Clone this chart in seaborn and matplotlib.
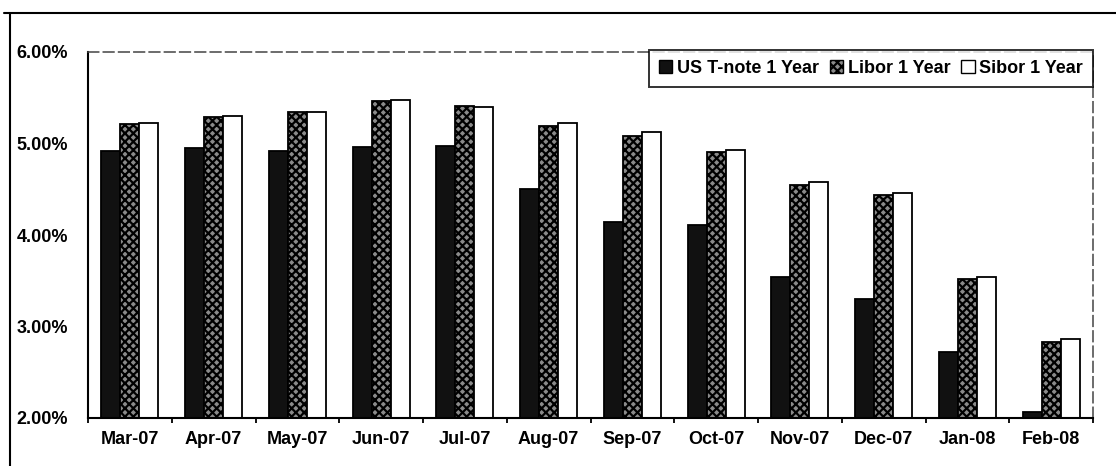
import matplotlib
matplotlib.use("Agg")
import matplotlib.pyplot as plt
from matplotlib.ticker import FuncFormatter, FixedLocator, MultipleLocator
from matplotlib.lines import Line2D
from matplotlib.patches import Patch
import pandas as pd
import seaborn as sns

# Monthly 1-year rates (%)
months = ["Mar-07", "Apr-07", "May-07", "Jun-07", "Jul-07", "Aug-07",
          "Sep-07", "Oct-07", "Nov-07", "Dec-07", "Jan-08", "Feb-08"]
series = ["US T-note 1 Year", "Libor 1 Year", "Sibor 1 Year"]
us_tnote = [4.92, 4.95, 4.92, 4.96, 4.97, 4.50, 4.14, 4.11, 3.54, 3.30, 2.72, 2.07]
libor = [5.21, 5.29, 5.34, 5.46, 5.41, 5.19, 5.08, 4.91, 4.55, 4.44, 3.52, 2.83]
sibor = [5.22, 5.30, 5.34, 5.48, 5.40, 5.22, 5.13, 4.93, 4.58, 4.46, 3.54, 2.86]
y_ticks = [2.0, 3.0, 4.0, 5.0, 6.0]

df = pd.DataFrame({
    "month": months * 3,
    "series": [series[0]] * 12 + [series[1]] * 12 + [series[2]] * 12,
    "rate": us_tnote + libor + sibor,
})

sns.set_theme(style="white")
plt.rcParams["font.family"] = ["Liberation Sans", "DejaVu Sans"]
plt.rcParams["hatch.linewidth"] = 1.6

HATCH_FACE = "#8a8a8a"

W, H = 1116, 466
fig = plt.figure(figsize=(W / 100, H / 100), dpi=100)
ax = fig.add_axes([88 / W, 1 - 418 / H, (1093 - 88) / W, (418 - 52) / H])

sns.barplot(data=df, x="month", y="rate", hue="series", order=months,
            hue_order=series, palette=["#111111", HATCH_FACE, "white"],
            edgecolor="black", linewidth=1.3, width=0.68, gap=0,
            saturation=1, legend=False, ax=ax)

for bar in ax.containers[1]:
    bar.set_hatch("xxxx")

ax.set_ylim(2.0, 6.0)
ax.yaxis.set_major_locator(FixedLocator(y_ticks))
ax.yaxis.set_major_formatter(FuncFormatter(lambda v, _: f"{v:.2f}%"))
ax.set_xlabel("")
ax.set_ylabel("")

ax.tick_params(axis="y", which="major", direction="out", length=4.3, width=1.3,
               color="black", pad=10, labelsize=13)
ax.tick_params(axis="x", which="major", length=0, pad=9, labelsize=13)
ax.xaxis.set_minor_locator(MultipleLocator(1, offset=0.5))
ax.set_xlim(-0.5, 11.5)
ax.tick_params(axis="x", which="minor", direction="out", length=3.6, width=1.3,
               color="black", bottom=True)
for lab in ax.get_xticklabels() + ax.get_yticklabels():
    lab.set_fontweight("bold")
    lab.set_color("black")

for side in ("left", "bottom"):
    ax.spines[side].set_color("black")
    ax.spines[side].set_linewidth(1.5)
for side in ("top", "right"):
    ax.spines[side].set_color("#444444")
    ax.spines[side].set_linewidth(1.1)
    ax.spines[side].set_linestyle((0, (7, 3)))

handles = [Patch(facecolor="#111111", edgecolor="black", label=series[0]),
           Patch(facecolor=HATCH_FACE, edgecolor="black", hatch="xxxx", label=series[1]),
           Patch(facecolor="white", edgecolor="black", label=series[2])]
leg = ax.legend(handles=handles, loc="upper right", ncol=3,
                bbox_to_anchor=(1.0, 1.005), fancybox=False, frameon=True,
                edgecolor="black", handlelength=0.75, handleheight=0.75,
                handletextpad=0.25, columnspacing=0.6, borderpad=0.55,
                borderaxespad=0.0, prop=dict(size=13, weight="bold"))
leg.get_frame().set_linewidth(1.4)
for t in leg.get_texts():
    t.set_color("black")

# outer chart frame
fig.add_artist(Line2D([4 / W, 1.0], [1 - 13 / H] * 2, transform=fig.transFigure,
                      color="black", linewidth=1.5))
fig.add_artist(Line2D([10 / W] * 2, [0.0, 1 - 13 / H], transform=fig.transFigure,
                      color="black", linewidth=1.5))

fig.savefig("out.png", dpi=100)
